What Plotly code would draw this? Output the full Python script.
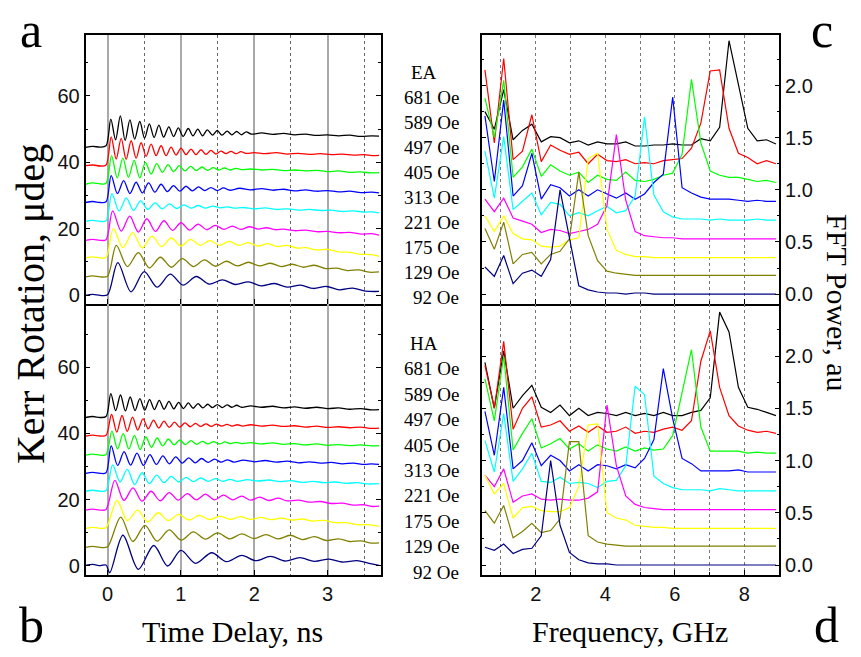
import plotly.graph_objects as go

SERIF = "Liberation Serif"
SANS = "Liberation Sans"

FIELDS = ["681 Oe", "589 Oe", "497 Oe", "405 Oe", "313 Oe", "221 Oe", "175 Oe", "129 Oe", "92 Oe"]
COLORS = ["#000000", "#ff0000", "#00ff00", "#0000ff", "#00ffff", "#ff00ff", "#ffff00", "#808000", "#000080"]

# ---------------- time-domain Kerr traces, easy axis (EA) ----------------
EA_T_681 = [-0.30, -0.20, -0.10, -0.02, 0.045, 0.11, 0.175, 0.24, 0.305, 0.37, 0.44, 0.505, 0.57, 0.635,
            0.70, 0.765, 0.835, 0.90, 0.965, 1.03, 1.10, 1.165, 1.23, 1.295, 1.36, 1.43, 1.495, 1.56, 1.63,
            1.695, 1.76, 1.825, 1.89, 1.96, 2.1, 2.25, 2.4, 2.55, 2.7, 2.85, 3.0, 3.15, 3.3, 3.45, 3.6, 3.7]
EA_V_681 = [44.5, 44.8, 44.6, 45.0, 53.0, 46.8, 54.0, 46.6, 52.8, 47.0, 52.3, 47.3, 51.6, 47.5,
            51.2, 47.6, 50.7, 47.8, 50.4, 47.8, 50.2, 48.0, 50.0, 48.0, 49.8, 48.2, 49.6, 48.2, 49.4,
            48.3, 49.3, 48.3, 49.2, 48.5, 48.9, 48.4, 48.7, 48.3, 48.5, 48.1, 48.3, 48.0, 48.2, 47.8, 48.0, 47.9]
EA_T_589 = [-0.30, -0.20, -0.10, -0.02, 0.05, 0.118, 0.186, 0.254, 0.322, 0.39, 0.458, 0.526, 0.594, 0.662,
            0.73, 0.798, 0.866, 0.934, 1.002, 1.07, 1.138, 1.206, 1.274, 1.342, 1.41, 1.478, 1.546, 1.614,
            1.682, 1.75, 1.818, 1.886, 2.0, 2.15, 2.3, 2.45, 2.6, 2.75, 2.9, 3.05, 3.2, 3.35, 3.5, 3.6, 3.7]
EA_V_589 = [39.0, 39.2, 38.9, 39.2, 47.7, 41.0, 47.2, 40.9, 46.5, 41.3, 45.9, 41.8, 45.5, 42.0,
            45.0, 42.0, 44.6, 42.2, 44.3, 42.3, 44.0, 42.3, 43.8, 42.4, 43.6, 42.5, 43.4, 42.6,
            43.3, 42.6, 43.2, 42.7, 42.9, 42.6, 42.9, 42.5, 42.7, 42.4, 42.6, 42.3, 42.5, 42.2, 42.3, 42.0, 42.1]
EA_T_497 = [-0.30, -0.20, -0.10, -0.02, 0.055, 0.132, 0.209, 0.286, 0.363, 0.44, 0.517, 0.594, 0.671, 0.748,
            0.825, 0.902, 0.979, 1.056, 1.133, 1.21, 1.287, 1.364, 1.441, 1.518, 1.595, 1.672, 1.749, 1.826,
            1.95, 2.1, 2.25, 2.4, 2.55, 2.7, 2.85, 3.0, 3.15, 3.3, 3.45, 3.6, 3.7]
EA_V_497 = [33.4, 33.8, 33.5, 33.7, 42.0, 35.3, 41.3, 35.5, 40.6, 35.3, 40.0, 36.5, 39.6, 37.0,
            39.3, 37.2, 39.0, 37.4, 38.8, 37.5, 38.6, 37.6, 38.4, 37.7, 38.3, 37.7, 38.2, 37.8,
            38.0, 37.7, 37.9, 37.5, 37.7, 37.4, 37.6, 37.2, 37.4, 37.0, 37.1, 36.8, 36.9]
EA_T_405 = [-0.30, -0.20, -0.10, -0.02, 0.05, 0.135, 0.22, 0.305, 0.39, 0.475, 0.56, 0.645, 0.73, 0.815,
            0.90, 0.985, 1.07, 1.155, 1.24, 1.325, 1.41, 1.495, 1.58, 1.665,
            1.8, 1.95, 2.1, 2.25, 2.4, 2.55, 2.7, 2.85, 3.0, 3.15, 3.3, 3.45, 3.6, 3.7]
EA_V_405 = [27.9, 28.2, 27.9, 28.1, 36.0, 30.6, 34.5, 30.6, 34.0, 30.8, 33.8, 31.0, 33.4, 31.2,
            33.0, 31.3, 32.8, 31.4, 32.6, 31.5, 32.4, 31.5, 32.3, 31.6,
            32.2, 31.7, 32.1, 31.6, 31.9, 31.4, 31.7, 31.3, 31.5, 31.1, 31.3, 30.9, 31.0, 30.8]
EA_T_313 = [-0.30, -0.20, -0.10, -0.02, 0.06, 0.158, 0.256, 0.354, 0.452, 0.55, 0.648, 0.746, 0.844, 0.942,
            1.04, 1.138, 1.236, 1.334, 1.432, 1.53, 1.628, 1.726,
            1.85, 2.0, 2.15, 2.3, 2.45, 2.6, 2.75, 2.9, 3.05, 3.2, 3.35, 3.5, 3.6, 3.7]
EA_V_313 = [22.2, 22.5, 22.2, 22.4, 30.6, 25.3, 29.3, 25.5, 28.4, 25.8, 27.8, 26.0, 27.5, 26.1,
            27.2, 26.2, 27.0, 26.2, 26.8, 26.3, 26.6, 26.2,
            26.4, 26.0, 26.3, 25.8, 26.0, 25.6, 25.8, 25.5, 25.6, 25.2, 25.4, 25.0, 25.1, 24.8]
EA_T_221 = [-0.30, -0.20, -0.10, -0.02, 0.07, 0.187, 0.303, 0.42, 0.536, 0.653, 0.769, 0.886, 1.002, 1.119,
            1.235, 1.352, 1.468, 1.585, 1.701, 1.818, 1.934, 2.051, 2.167, 2.284,
            2.4, 2.55, 2.7, 2.85, 3.0, 3.15, 3.3, 3.45, 3.6, 3.7]
EA_V_221 = [16.5, 16.8, 16.5, 16.7, 25.4, 19.3, 23.8, 19.0, 23.0, 19.2, 22.4, 19.5, 21.8, 19.6,
            21.4, 19.7, 21.0, 19.8, 20.8, 19.8, 20.6, 19.9, 20.3, 19.7,
            19.9, 19.4, 19.6, 19.1, 19.2, 18.8, 18.9, 18.4, 18.5, 18.1]
EA_T_175 = [-0.30, -0.20, -0.10, -0.02, 0.08, 0.21, 0.343, 0.473, 0.606, 0.736, 0.869, 0.999, 1.132, 1.262,
            1.395, 1.525, 1.658, 1.788, 1.921, 2.051, 2.184, 2.314, 2.447, 2.577,
            2.7, 2.85, 3.0, 3.15, 3.3, 3.45, 3.6, 3.7]
EA_V_175 = [11.2, 11.5, 11.2, 11.4, 20.0, 14.3, 18.8, 14.2, 17.8, 14.6, 17.2, 14.8, 16.8, 15.0,
            16.4, 15.0, 16.2, 15.0, 15.8, 14.8, 15.5, 14.6, 15.0, 14.2,
            14.3, 13.6, 13.8, 13.0, 12.9, 12.3, 12.2, 11.7]
EA_T_129 = [-0.30, -0.20, -0.10, 0.0, 0.12, 0.27, 0.42, 0.57, 0.72, 0.87, 1.02, 1.17, 1.32, 1.47,
            1.62, 1.77, 1.92, 2.07, 2.22, 2.37, 2.52, 2.67, 2.82, 2.97, 3.12, 3.27, 3.42, 3.57, 3.7]
EA_V_129 = [5.5, 5.8, 5.5, 5.7, 15.0, 8.6, 12.8, 8.2, 11.4, 8.4, 11.0, 8.6, 10.6, 8.7,
            10.2, 8.8, 9.9, 8.8, 9.6, 8.6, 9.3, 8.4, 9.0, 8.0, 8.1, 7.4, 7.6, 6.9, 7.0]
EA_T_92 = [-0.30, -0.20, -0.10, 0.0, 0.14, 0.32, 0.50, 0.675, 0.855, 1.03, 1.21, 1.385, 1.565, 1.74,
           1.92, 2.095, 2.275, 2.45, 2.63, 2.805, 2.985, 3.16, 3.34, 3.515, 3.7]
EA_V_92 = [-0.1, 0.2, -0.1, 0.1, 9.8, 1.0, 7.1, 2.4, 6.3, 3.0, 5.6, 3.3, 4.6, 3.2,
           4.0, 2.8, 3.5, 2.4, 3.0, 2.0, 2.6, 1.6, 2.1, 1.2, 1.1]

# ---------------- time-domain Kerr traces, hard axis (HA) ----------------
HA_T_681 = [-0.30, -0.20, -0.10, -0.02, 0.045, 0.111, 0.177, 0.243, 0.309, 0.375, 0.441, 0.507, 0.573, 0.639,
            0.705, 0.771, 0.837, 0.903, 0.969, 1.035, 1.101, 1.167, 1.233, 1.299, 1.365, 1.431, 1.497, 1.563,
            1.629, 1.695, 1.761, 1.827, 1.95, 2.1, 2.25, 2.4, 2.55, 2.7, 2.85, 3.0, 3.15, 3.3, 3.45, 3.6, 3.7]
HA_V_681 = [44.8, 45.1, 44.8, 45.1, 52.0, 46.9, 51.6, 46.8, 51.0, 46.9, 50.5, 47.0, 50.2, 47.2,
            50.0, 47.3, 49.7, 47.4, 49.4, 47.5, 49.2, 47.6, 49.0, 47.7, 48.8, 47.8, 48.7, 47.8,
            48.6, 47.9, 48.5, 47.9, 48.3, 47.9, 48.2, 47.7, 48.0, 47.6, 47.9, 47.5, 47.7, 47.3, 47.5, 47.1, 47.2]
HA_T_589 = [-0.30, -0.20, -0.10, -0.02, 0.055, 0.126, 0.198, 0.269, 0.341, 0.412, 0.484, 0.555, 0.627, 0.698,
            0.77, 0.841, 0.913, 0.984, 1.056, 1.127, 1.199, 1.27, 1.342, 1.413, 1.485, 1.556, 1.628, 1.699,
            1.771, 1.842, 1.95, 2.1, 2.25, 2.4, 2.55, 2.7, 2.85, 3.0, 3.15, 3.3, 3.45, 3.6, 3.7]
HA_V_589 = [39.2, 39.5, 39.2, 39.4, 45.7, 40.4, 45.4, 40.6, 44.9, 41.0, 44.4, 41.4, 44.0, 41.6,
            43.7, 41.8, 43.4, 41.9, 43.2, 42.0, 43.0, 42.1, 42.9, 42.1, 42.8, 42.2, 42.7, 42.2,
            42.6, 42.2, 42.6, 42.2, 42.5, 42.1, 42.3, 41.9, 42.2, 41.8, 42.0, 41.7, 41.9, 41.5, 41.6]
HA_T_497 = [-0.30, -0.20, -0.10, -0.02, 0.06, 0.137, 0.214, 0.291, 0.368, 0.445, 0.522, 0.599, 0.676, 0.753,
            0.83, 0.907, 0.984, 1.061, 1.138, 1.215, 1.292, 1.369, 1.446, 1.523, 1.6, 1.677, 1.754, 1.831,
            1.95, 2.1, 2.25, 2.4, 2.55, 2.7, 2.85, 3.0, 3.15, 3.3, 3.45, 3.6, 3.7]
HA_V_497 = [33.4, 33.7, 33.4, 33.6, 40.7, 35.3, 39.9, 35.3, 39.4, 35.1, 38.9, 35.8, 38.6, 36.2,
            38.3, 36.5, 38.0, 36.6, 37.8, 36.7, 37.6, 36.8, 37.5, 36.8, 37.4, 36.9, 37.3, 36.9,
            37.2, 36.8, 37.1, 36.7, 36.9, 36.5, 36.8, 36.4, 36.6, 36.3, 36.5, 36.2, 36.3]
HA_T_405 = [-0.30, -0.20, -0.10, -0.02, 0.05, 0.138, 0.226, 0.314, 0.402, 0.49, 0.578, 0.666, 0.754, 0.842,
            0.93, 1.018, 1.106, 1.194, 1.282, 1.37, 1.458, 1.546, 1.634, 1.722,
            1.85, 2.0, 2.15, 2.3, 2.45, 2.6, 2.75, 2.9, 3.05, 3.2, 3.35, 3.5, 3.6, 3.7]
HA_V_405 = [27.9, 28.2, 27.9, 28.1, 36.2, 30.3, 34.5, 30.4, 34.0, 30.3, 33.6, 30.6, 33.2, 30.8,
            32.9, 31.0, 32.6, 31.1, 32.4, 31.2, 32.2, 31.3, 32.0, 31.3,
            31.9, 31.4, 31.8, 31.3, 31.6, 31.1, 31.4, 31.0, 31.2, 30.8, 31.0, 30.6, 30.8, 30.6]
HA_T_313 = [-0.30, -0.20, -0.10, -0.02, 0.07, 0.17, 0.27, 0.37, 0.47, 0.57, 0.67, 0.77, 0.87, 0.97,
            1.07, 1.17, 1.27, 1.37, 1.47, 1.57, 1.67, 1.77,
            1.9, 2.05, 2.2, 2.35, 2.5, 2.65, 2.8, 2.95, 3.1, 3.25, 3.4, 3.55, 3.7]
HA_V_313 = [22.5, 22.8, 22.5, 22.7, 30.5, 25.3, 29.1, 24.5, 28.1, 24.8, 27.4, 25.1, 27.0, 25.3,
            26.7, 25.4, 26.5, 25.5, 26.3, 25.5, 26.1, 25.5,
            26.0, 25.6, 25.9, 25.4, 25.7, 25.2, 25.5, 25.1, 25.3, 24.9, 25.1, 24.7, 24.8]
HA_T_221 = [-0.30, -0.20, -0.10, -0.02, 0.1, 0.223, 0.347, 0.47, 0.594, 0.717, 0.841, 0.964, 1.088, 1.211,
            1.335, 1.458, 1.582, 1.705, 1.829, 1.952, 2.076, 2.199, 2.323, 2.446,
            2.6, 2.75, 2.9, 3.05, 3.2, 3.35, 3.5, 3.6, 3.7]
HA_V_221 = [16.8, 17.1, 16.8, 17.0, 25.8, 19.7, 23.5, 19.5, 22.5, 19.6, 22.1, 19.8, 21.8, 19.9,
            21.6, 19.9, 21.3, 19.9, 21.0, 19.8, 20.7, 19.7, 20.4, 19.6,
            19.8, 19.2, 19.4, 18.8, 18.9, 18.3, 18.4, 17.9, 18.0]
HA_T_175 = [-0.30, -0.20, -0.10, -0.02, 0.13, 0.27, 0.41, 0.55, 0.69, 0.83, 0.97, 1.11, 1.25, 1.39,
            1.53, 1.67, 1.81, 1.95, 2.09, 2.23, 2.37, 2.51,
            2.65, 2.8, 2.95, 3.1, 3.25, 3.4, 3.55, 3.7]
HA_V_175 = [11.3, 11.6, 11.3, 11.5, 19.7, 13.6, 16.8, 13.2, 16.0, 13.6, 15.5, 13.8, 15.2, 13.9,
            15.0, 14.0, 14.8, 14.0, 14.6, 13.9, 14.4, 13.8,
            14.1, 13.5, 13.7, 13.0, 13.0, 12.4, 12.4, 11.9]
HA_T_129 = [-0.30, -0.20, -0.10, 0.0, 0.18, 0.345, 0.51, 0.675, 0.84, 1.005, 1.17, 1.335, 1.50, 1.665,
            1.83, 1.995, 2.16, 2.325, 2.49, 2.655, 2.82, 2.985, 3.15, 3.3, 3.45, 3.6, 3.7]
HA_V_129 = [5.5, 5.8, 5.5, 5.7, 14.7, 7.3, 12.2, 7.4, 10.8, 7.7, 10.2, 8.0, 9.9, 8.1,
            9.6, 8.2, 9.4, 8.1, 9.2, 7.9, 8.8, 7.6, 8.1, 7.3, 7.5, 6.8, 6.9]
HA_T_92 = [-0.30, -0.20, -0.10, -0.02, 0.03, 0.21, 0.42, 0.63, 0.82, 1.0, 1.2, 1.42, 1.62, 1.83,
           2.02, 2.22, 2.42, 2.62, 2.82, 3.02, 3.2, 3.4, 3.55, 3.7]
HA_V_92 = [0.1, 0.4, 0.0, 0.2, -2.1, 9.2, -1.1, 6.1, -0.1, 4.6, 0.7, 3.9, 1.2, 3.1,
           1.5, 2.8, 1.4, 2.4, 1.3, 2.0, 1.1, 1.5, 0.8, 0.1]

# ---------------- FFT power spectra ----------------
FREQ = [0.54, 0.81, 1.08, 1.35, 1.62, 1.89, 2.16, 2.43, 2.70, 2.97, 3.24, 3.51, 3.78, 4.05, 4.32, 4.59,
        4.86, 5.13, 5.40, 5.67, 5.94, 6.21, 6.48, 6.75, 7.02, 7.29, 7.56, 7.83, 8.10, 8.37, 8.64, 8.91]

EA_FFT_681 = [1.75, 1.58, 1.96, 1.48, 1.57, 1.63, 1.46, 1.51, 1.50, 1.45, 1.47, 1.43, 1.46, 1.44, 1.44, 1.46,
              1.42, 1.42, 1.43, 1.43, 1.44, 1.43, 1.43, 1.49, 1.47, 1.60, 2.43, 2.02, 1.59, 1.47, 1.48, 1.44]
EA_FFT_589 = [2.15, 1.45, 2.26, 1.29, 1.37, 1.72, 1.27, 1.43, 1.38, 1.34, 1.36, 1.25, 1.34, 1.28, 1.27, 1.29,
              1.25, 1.26, 1.25, 1.28, 1.29, 1.30, 1.40, 1.64, 2.14, 2.15, 1.59, 1.35, 1.31, 1.25, 1.28, 1.25]
EA_FFT_497 = [1.88, 1.50, 2.05, 1.12, 1.22, 1.39, 1.13, 1.24, 1.18, 1.14, 1.17, 1.07, 1.14, 1.10, 1.09, 1.17,
              1.09, 1.08, 1.10, 1.14, 1.16, 1.34, 2.06, 1.45, 1.18, 1.14, 1.12, 1.12, 1.10, 1.08, 1.09, 1.07]
EA_FFT_405 = [1.71, 1.08, 1.86, 0.94, 1.04, 1.35, 0.91, 1.05, 1.02, 0.94, 1.00, 0.94, 1.00, 0.96, 0.92, 0.97,
              0.91, 0.96, 1.07, 1.15, 1.89, 1.02, 0.97, 0.93, 0.91, 0.91, 0.91, 0.90, 0.89, 0.90, 0.89, 0.89]
EA_FFT_313 = [1.37, 0.92, 1.51, 0.81, 0.89, 0.97, 0.76, 0.88, 0.86, 0.75, 0.78, 0.75, 0.80, 0.84, 0.78, 0.80,
              0.94, 1.70, 0.95, 0.79, 0.74, 0.72, 0.72, 0.72, 0.71, 0.72, 0.71, 0.71, 0.71, 0.72, 0.71, 0.71]
EA_FFT_221 = [0.91, 0.79, 0.92, 0.73, 0.70, 0.67, 0.59, 0.62, 0.61, 0.58, 0.60, 0.62, 0.67, 0.85, 1.53, 0.90,
              0.60, 0.56, 0.55, 0.54, 0.54, 0.53, 0.53, 0.53, 0.53, 0.53, 0.53, 0.53, 0.53, 0.53, 0.53, 0.53]
EA_FFT_175 = [0.75, 0.60, 0.75, 0.58, 0.53, 0.52, 0.46, 0.45, 0.46, 0.52, 0.54, 1.30, 1.35, 0.62, 0.42, 0.38,
              0.36, 0.36, 0.35, 0.35, 0.35, 0.35, 0.35, 0.35, 0.35, 0.35, 0.35, 0.35, 0.35, 0.35, 0.35, 0.35]
EA_FFT_129 = [0.63, 0.43, 0.69, 0.29, 0.38, 0.40, 0.29, 0.38, 0.41, 0.53, 1.17, 0.56, 0.32, 0.22, 0.20, 0.19,
              0.18, 0.18, 0.18, 0.18, 0.18, 0.18, 0.18, 0.18, 0.18, 0.18, 0.18, 0.18, 0.18, 0.18, 0.18, 0.18]
EA_FFT_92 = [0.26, 0.17, 0.37, 0.10, 0.20, 0.23, 0.17, 0.33, 1.00, 0.55, 0.08, 0.04, 0.02, 0.01, 0.01, 0.00,
             0.01, 0.01, 0.00, 0.00, 0.00, 0.00, 0.00, 0.00, 0.00, 0.00, 0.00, 0.00, 0.00, 0.00, 0.00, 0.00]

HA_FFT_681 = [1.94, 1.50, 2.05, 1.50, 1.62, 1.72, 1.51, 1.46, 1.53, 1.43, 1.50, 1.43, 1.46, 1.45, 1.43, 1.46,
              1.43, 1.45, 1.43, 1.46, 1.43, 1.43, 1.46, 1.48, 1.60, 2.42, 2.23, 1.70, 1.51, 1.49, 1.46, 1.43]
HA_FFT_589 = [1.91, 1.50, 2.14, 1.30, 1.50, 1.61, 1.32, 1.34, 1.38, 1.28, 1.33, 1.27, 1.33, 1.27, 1.28, 1.32,
              1.26, 1.28, 1.27, 1.30, 1.32, 1.29, 1.38, 1.95, 2.24, 1.70, 1.43, 1.33, 1.29, 1.27, 1.28, 1.26]
HA_FFT_497 = [1.78, 1.38, 2.00, 1.10, 1.26, 1.40, 1.12, 1.16, 1.21, 1.11, 1.16, 1.09, 1.15, 1.11, 1.09, 1.13,
              1.09, 1.12, 1.10, 1.11, 1.24, 1.65, 2.06, 1.32, 1.09, 1.09, 1.09, 1.09, 1.07, 1.08, 1.07, 1.07]
HA_FFT_405 = [1.47, 1.05, 1.70, 0.92, 1.00, 1.17, 0.95, 1.05, 1.00, 0.90, 0.96, 0.90, 0.96, 0.95, 0.92, 0.96,
              0.93, 1.02, 1.20, 1.88, 1.40, 1.02, 0.97, 0.90, 0.90, 0.90, 0.90, 0.91, 0.89, 0.89, 0.89, 0.89]
HA_FFT_313 = [1.19, 0.89, 1.45, 0.80, 0.92, 1.07, 0.80, 0.79, 0.84, 0.78, 0.79, 0.78, 0.74, 0.80, 0.81, 0.95,
              1.71, 1.63, 0.85, 0.78, 0.74, 0.72, 0.72, 0.72, 0.71, 0.73, 0.72, 0.71, 0.71, 0.71, 0.71, 0.71]
HA_FFT_221 = [0.86, 0.75, 0.92, 0.60, 0.66, 0.68, 0.63, 0.62, 0.63, 0.62, 0.62, 0.64, 0.70, 1.53, 0.95, 0.66,
              0.58, 0.55, 0.54, 0.53, 0.53, 0.53, 0.53, 0.53, 0.53, 0.53, 0.53, 0.53, 0.53, 0.53, 0.53, 0.53]
HA_FFT_175 = [0.86, 0.68, 0.78, 0.45, 0.55, 0.56, 0.52, 0.51, 0.51, 0.55, 0.75, 1.34, 1.35, 0.50, 0.45, 0.43,
              0.38, 0.37, 0.36, 0.36, 0.35, 0.35, 0.35, 0.35, 0.35, 0.35, 0.35, 0.35, 0.35, 0.35, 0.35, 0.35]
HA_FFT_129 = [0.52, 0.40, 0.57, 0.26, 0.32, 0.40, 0.31, 0.33, 0.44, 1.18, 1.18, 0.28, 0.22, 0.20, 0.19, 0.18,
              0.18, 0.18, 0.18, 0.18, 0.18, 0.18, 0.18, 0.18, 0.18, 0.18, 0.18, 0.18, 0.18, 0.18, 0.18, 0.18]
HA_FFT_92 = [0.17, 0.14, 0.20, 0.11, 0.15, 0.16, 0.28, 1.00, 0.38, 0.12, 0.05, 0.02, 0.01, 0.01, 0.00, 0.00,
             0.00, 0.00, 0.00, 0.00, 0.00, 0.00, 0.00, 0.00, 0.00, 0.00, 0.00, 0.00, 0.00, 0.00, 0.00, 0.00]

TIME_TICKS = [0, 1, 2, 3]
TIME_HALF = [0.5, 1.5, 2.5, 3.5]
KERR_TICKS = [0, 20, 40, 60]
KERR_MINOR = [10, 30, 50, 70]
FREQ_TICKS = [2, 4, 6, 8]
FREQ_MINOR = [1, 3, 5, 7]
POWER_TICKS = [0.0, 0.5, 1.0, 1.5, 2.0]
POWER_LABELS = ["0.0", "0.5", "1.0", "1.5", "2.0"]
POWER_MINOR = [0.25, 0.75, 1.25, 1.75, 2.25]

EA_T = [EA_T_681, EA_T_589, EA_T_497, EA_T_405, EA_T_313, EA_T_221, EA_T_175, EA_T_129, EA_T_92]
EA_V = [EA_V_681, EA_V_589, EA_V_497, EA_V_405, EA_V_313, EA_V_221, EA_V_175, EA_V_129, EA_V_92]
HA_T = [HA_T_681, HA_T_589, HA_T_497, HA_T_405, HA_T_313, HA_T_221, HA_T_175, HA_T_129, HA_T_92]
HA_V = [HA_V_681, HA_V_589, HA_V_497, HA_V_405, HA_V_313, HA_V_221, HA_V_175, HA_V_129, HA_V_92]
EA_FFT = [EA_FFT_681, EA_FFT_589, EA_FFT_497, EA_FFT_405, EA_FFT_313, EA_FFT_221, EA_FFT_175, EA_FFT_129, EA_FFT_92]
HA_FFT = [HA_FFT_681, HA_FFT_589, HA_FFT_497, HA_FFT_405, HA_FFT_313, HA_FFT_221, HA_FFT_175, HA_FFT_129, HA_FFT_92]

for a, b in list(zip(EA_T, EA_V)) + list(zip(HA_T, HA_V)):
    if len(a) != len(b):
        raise ValueError(f"length mismatch {len(a)} vs {len(b)}")
for s in EA_FFT + HA_FFT:
    if len(s) != len(FREQ):
        raise ValueError(f"fft length {len(s)}")

W, H = 861, 657
def px(x):
    return x / W
def py(y):
    return 1 - y / H

fig = go.Figure()

def add_time(ts, vs, xa, ya):
    for i in range(9):
        fig.add_trace(go.Scatter(x=ts[i], y=vs[i], mode="lines", xaxis=xa, yaxis=ya,
                                 line=dict(color=COLORS[i], width=1.3, shape="spline", smoothing=0.9),
                                 hoverinfo="skip", showlegend=False))

def add_fft(vs, xa, ya):
    for i in range(9):
        fig.add_trace(go.Scatter(x=FREQ, y=vs[i], mode="lines", xaxis=xa, yaxis=ya,
                                 line=dict(color=COLORS[i], width=1.2),
                                 hoverinfo="skip", showlegend=False))

add_time(EA_T, EA_V, "x", "y")
add_fft(EA_FFT, "x2", "y2")
add_time(HA_T, HA_V, "x3", "y3")
add_fft(HA_FFT, "x4", "y4")

LX = [px(85.5), px(380.5)]
RX = [px(481.7), px(779.3)]
TY = [py(305), py(35)]
BY = [py(577), py(305)]

frame = dict(showline=True, linecolor="black", linewidth=1.5, zeroline=False)
tick_font = dict(family=SANS, size=20, color="#111")

def time_axis(labels, anchor, mirror):
    return dict(domain=LX, range=[-0.3, 3.72], anchor=anchor, tickvals=TIME_TICKS,
                showticklabels=labels, tickfont=tick_font, ticks="inside", ticklen=5,
                tickcolor="black", showgrid=True, gridcolor="#a9a9a9", gridwidth=1.6,
                minor=dict(tickvals=TIME_HALF, showgrid=True, gridcolor="#666666", griddash="dot",
                           gridwidth=1, ticks=""),
                mirror=mirror, **frame)

def kerr_axis(dom, rng, anchor):
    return dict(domain=dom, range=rng, anchor=anchor, tickvals=KERR_TICKS, tickfont=tick_font,
                ticks="inside", ticklen=5, tickcolor="black", showgrid=False,
                minor=dict(tickvals=KERR_MINOR, ticks="inside", ticklen=3, tickcolor="black"),
                mirror="ticks", **frame)

def freq_axis(labels, anchor, mirror):
    return dict(domain=RX, range=[0.447, 9.006], anchor=anchor, tickvals=FREQ_TICKS,
                showticklabels=labels, tickfont=tick_font, ticks="inside", ticklen=5,
                tickcolor="black", showgrid=True, gridcolor="#777777", griddash="dot", gridwidth=1,
                minor=dict(tickvals=FREQ_MINOR, showgrid=True, gridcolor="#777777", griddash="dot",
                           gridwidth=1, ticks="inside", ticklen=3, tickcolor="black"),
                mirror=mirror, **frame)

def power_axis(dom, rng, anchor):
    return dict(domain=dom, range=rng, anchor=anchor, side="right", tickvals=POWER_TICKS,
                ticktext=POWER_LABELS, tickfont=tick_font, ticks="inside", ticklen=5,
                tickcolor="black", showgrid=False,
                minor=dict(tickvals=POWER_MINOR, ticks="inside", ticklen=3, tickcolor="black"),
                mirror="ticks", **frame)

fig.update_layout(
    width=W, height=H, margin=dict(l=0, r=0, t=0, b=0),
    paper_bgcolor="white", plot_bgcolor="white", showlegend=False,
    xaxis=time_axis(False, "y", True),
    yaxis=kerr_axis(TY, [-2.7, 78.4], "x"),
    xaxis2=freq_axis(False, "y2", True),
    yaxis2=power_axis(TY, [-0.096, 2.486], "x2"),
    xaxis3=time_axis(True, "y3", False),
    yaxis3=kerr_axis(BY, [-2.9, 79.1], "x3"),
    xaxis4=freq_axis(True, "y4", False),
    yaxis4=power_axis(BY, [-0.098, 2.497], "x4"),
)

ann = []
def text(x, y, s, size, xanchor="center", yanchor="middle", angle=0, family=SERIF):
    ann.append(dict(x=px(x), y=py(y), xref="paper", yref="paper", text=s, showarrow=False,
                    xanchor=xanchor, yanchor=yanchor, textangle=angle, borderpad=0,
                    font=dict(family=family, size=size, color="black")))

# panel letters (kept just inside the page edges)
text(31, 1, "a", 50, yanchor="top")
text(31, 656, "b", 50, yanchor="bottom")
text(822, 1, "c", 50, yanchor="top")
text(826, 656, "d", 50, yanchor="bottom")
# axis titles
text(30, 305, "Kerr Rotation, \u03bcdeg", 40, angle=-90)
text(838, 303, "FFT Power, au", 30, angle=90)
text(232, 633, "Time Delay, ns", 30)
text(630, 633, "Frequency, GHz", 30)
# field labels
text(424, 73, "EA", 19)
for i, f in enumerate(FIELDS):
    text(460, 98 + 25.1 * i, f, 19, xanchor="right")
text(424, 345, "HA", 19)
for i, f in enumerate(FIELDS):
    text(460, 370 + 25.5 * i, f, 19, xanchor="right")

fig.update_layout(annotations=ann)
fig.write_html("out.html")
